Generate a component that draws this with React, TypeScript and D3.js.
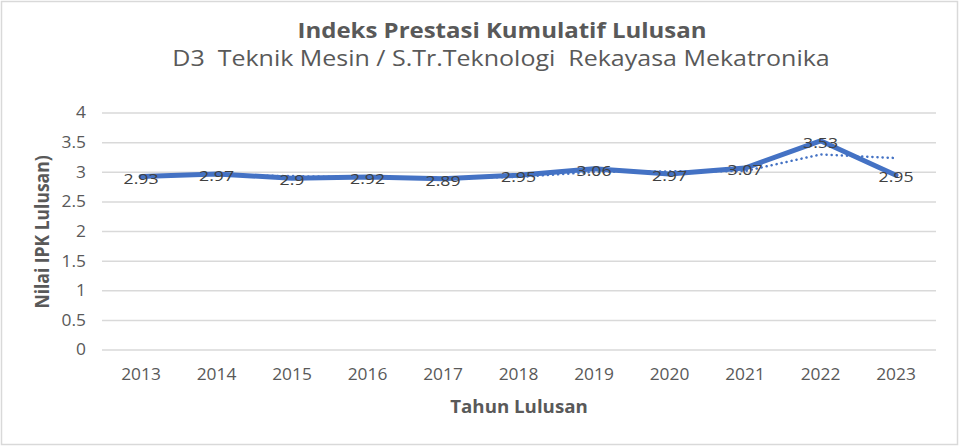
import React from "react";
import * as d3 from "d3";

const years = ["2013", "2014", "2015", "2016", "2017", "2018", "2019", "2020", "2021", "2022", "2023"];
const ipk = [2.93, 2.97, 2.9, 2.92, 2.89, 2.95, 3.06, 2.97, 3.07, 3.53, 2.95];
// dotted trend line (2-period moving average), starts at 2014
const trendYears = ["2014", "2015", "2016", "2017", "2018", "2019", "2020", "2021", "2022", "2023"];
const trend = [2.95, 2.935, 2.91, 2.905, 2.92, 3.005, 3.015, 3.02, 3.3, 3.24];
const yTicks = [0, 0.5, 1, 1.5, 2, 2.5, 3, 3.5, 4];

const W = 960;
const H = 446;
const FONT = "'Open Sans', 'Noto Sans', sans-serif";
const GREY = "#595959";
const BLUE = "#4472C4";

// the reference text is a bit wider than it is tall, so stretch it sideways
function T(props: {
  x: number;
  y: number;
  sx?: number;
  rotate?: number;
  size: number;
  bold?: boolean;
  anchor?: string;
  dy?: string;
  fill?: string;
  children: React.ReactNode;
}) {
  const { x, y, sx = 1.15, rotate = 0, size, bold, anchor = "middle", dy, fill = GREY } = props;
  return (
    <text
      transform={`translate(${x},${y}) scale(${sx},1)${rotate ? ` rotate(${rotate})` : ""}`}
      textAnchor={anchor}
      dy={dy}
      fill={fill}
      fontSize={size}
      fontWeight={bold ? "bold" : "normal"}
      style={{ whiteSpace: "pre" }}
    >
      {props.children}
    </text>
  );
}

export default function App() {
  const x = d3.scalePoint<string>().domain(years).range([141, 896]);
  const y = d3.scaleLinear().domain([0, 4]).range([350, 113]);

  const line = d3
    .line<number>()
    .x((_, i) => x(years[i]) as number)
    .y((d) => y(d));

  const trendLine = d3
    .line<number>()
    .x((_, i) => x(trendYears[i]) as number)
    .y((d) => y(d));

  return (
    <div style={{ position: "absolute", left: 0, top: 0 }}>
      <svg width={W} height={H} style={{ display: "block", fontFamily: FONT }}>
        <rect x={0} y={0} width={W} height={H} fill="#fff" />
        <rect x={1.5} y={1.5} width={W - 4} height={H - 3} fill="none" stroke="#d9d9d9" strokeWidth={1.5} />

        {/* titles */}
        <T x={502} y={37.5} sx={1.17} size={20.5} bold>
          Indeks Prestasi Kumulatif Lulusan
        </T>
        <T x={501} y={65.5} sx={1.19} size={21}>
          {"D3  Teknik Mesin / S.Tr.Teknologi  Rekayasa Mekatronika"}
        </T>

        {/* grid + y ticks */}
        {yTicks.map((t) => (
          <g key={t}>
            <line x1={102} x2={936} y1={y(t)} y2={y(t)} stroke="#d9d9d9" strokeWidth={1.5} />
            <T x={86} y={y(t)} dy="0.35em" anchor="end" sx={1.12} size={15.5}>
              {t}
            </T>
          </g>
        ))}

        {/* x ticks */}
        {years.map((yr) => (
          <T key={yr} x={x(yr) as number} y={380} sx={1.12} size={15.5}>
            {yr}
          </T>
        ))}

        {/* axis titles */}
        <T x={519} y={413} sx={1.1} size={17} bold>
          Tahun Lulusan
        </T>
        <T x={49} y={232} sx={1.15} rotate={-90} size={17.5} bold>
          Nilai IPK Lulusan)
        </T>

        {/* trend */}
        <path
          d={trendLine(trend) || ""}
          fill="none"
          stroke={BLUE}
          strokeWidth={2.5}
          strokeDasharray="0.1 5"
          strokeLinecap="round"
        />

        {/* main series */}
        <path d={line(ipk) || ""} fill="none" stroke={BLUE} strokeWidth={5} strokeLinejoin="round" strokeLinecap="round" />

        {/* data labels */}
        {ipk.map((v, i) => (
          <T key={i} x={x(years[i]) as number} y={y(v) + 2} dy="0.35em" sx={1.18} size={15} fill="#404040">
            {v}
          </T>
        ))}
      </svg>
    </div>
  );
}
